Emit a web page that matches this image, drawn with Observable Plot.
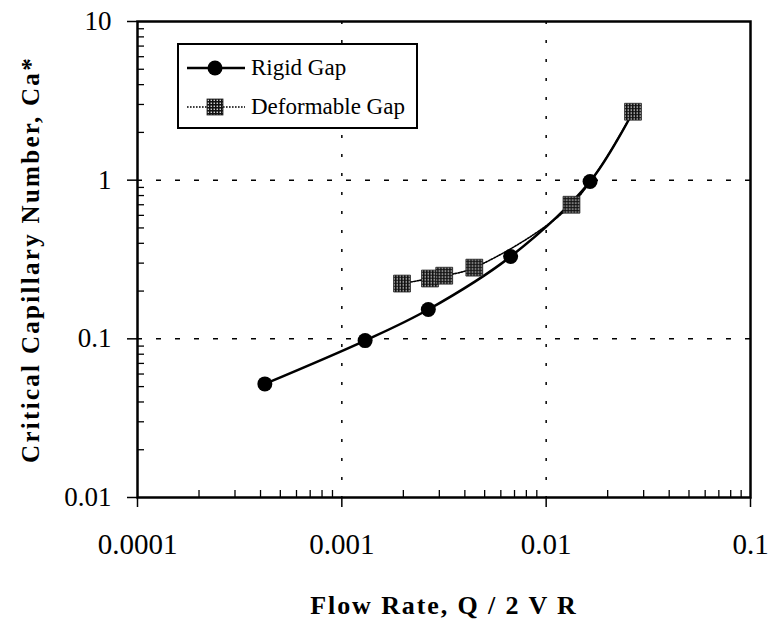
<!DOCTYPE html>
<html><head><meta charset="utf-8">
<script src="https://cdn.jsdelivr.net/npm/d3@7"></script>
<script src="https://cdn.jsdelivr.net/npm/@observablehq/plot@0.6"></script>
<style>body{margin:0;background:#fff}</style>
</head><body><div id="chart"></div>
<script>
// ---- data ----
const seriesNames = ["Rigid Gap", "Deformable Gap"];
const rigidX = [0.00042, 0.0013, 0.00265, 0.0067, 0.0164, 0.0266];
const rigidY = [0.052, 0.0975, 0.153, 0.33, 0.98, 2.7];
const deformX = [0.00197, 0.0027, 0.00317, 0.00445, 0.0133, 0.0266];
const deformY = [0.223, 0.24, 0.25, 0.281, 0.70, 2.7];
const xMajor = [0.0001, 0.001, 0.01, 0.1];
const xLabels = ["0.0001", "0.001", "0.01", "0.1"];
const yMajor = [0.01, 0.1, 1, 10];
const yLabels = ["0.01", "0.1", "1", "10"];
const xGrid = [0.001, 0.01];
const yGrid = [0.1, 1];
const minorMult = [2, 3, 4, 5, 6, 7, 8, 9];
const xTitle = "Flow Rate, Q / 2 V R";
const yTitle = "Critical Capillary Number, Ca*";

const xMinor = xMajor.slice(0, -1).flatMap(d => minorMult.map(k => d * k));
const yMinor = yMajor.slice(0, -1).flatMap(d => minorMult.map(k => d * k));
const rigid = rigidX.map((x, i) => ({x, y: rigidY[i]}));
const deform = deformX.map((x, i) => ({x, y: deformY[i]}));

const serif = "'Liberation Serif', 'Times New Roman', serif";

const chart = Plot.plot({
  width: 769, height: 619,
  marginLeft: 137, marginRight: 19, marginTop: 21, marginBottom: 122,
  x: {type: "log", domain: [0.0001, 0.1]},
  y: {type: "log", domain: [0.01, 10]},
  style: {fontFamily: serif, background: "white", color: "black"},
  marks: [
    Plot.ruleX(xGrid, {stroke: "black", strokeWidth: 1.5, strokeDasharray: "3,16"}),
    Plot.ruleY(yGrid, {stroke: "black", strokeWidth: 1.5, strokeDasharray: "5,14"}),
    Plot.axisX({ticks: xMinor, tickSize: -7, tickFormat: () => "", strokeWidth: 1.3, label: null}),
    Plot.axisY({ticks: yMinor, tickSize: -7, tickFormat: () => "", strokeWidth: 1.3, label: null}),
    Plot.axisX({ticks: xMajor, tickSize: 10, tickPadding: 26, fontSize: 29, strokeWidth: 1.5,
      tickFormat: d => xLabels[xMajor.indexOf(d)], label: null}),
    Plot.axisY({ticks: yMajor, tickSize: 10, tickPadding: 16, fontSize: 27, strokeWidth: 1.5,
      tickFormat: d => yLabels[yMajor.indexOf(d)], label: null}),
    Plot.frame({stroke: "black", strokeWidth: 2.5}),
    Plot.line(rigid, {x: "x", y: "y", curve: "catmull-rom", stroke: "black", strokeWidth: 2.5}),
    Plot.line(deform, {x: "x", y: "y", curve: "catmull-rom", stroke: "black", strokeWidth: 1.6, strokeDasharray: "1.6,1.4"}),
    Plot.dot(rigid, {x: "x", y: "y", r: 7.5, fill: "black"}),
    Plot.dot(deform, {x: "x", y: "y", symbol: "square", r: 9.5, fill: "url(#chk)", stroke: "#222", strokeWidth: 0.8}),
    Plot.text([xTitle], {frameAnchor: "bottom", dy: 116, lineAnchor: "bottom", fontSize: 26, fontWeight: "bold", fill: "black", className: "ttlx"}),
    Plot.text([yTitle], {frameAnchor: "left", dx: -107, rotate: -90, textAnchor: "middle", lineAnchor: "middle", fontSize: 25, fontWeight: "bold", fill: "black", className: "ttly"})
  ]
});

const svg = d3.select(chart);
svg.selectAll(".ttlx text").attr("letter-spacing", 1.9);
svg.selectAll(".ttly text").attr("letter-spacing", 2.3);
// checkered pattern for deformable squares
const defs = svg.insert("defs", ":first-child");
const pat = defs.append("pattern").attr("id", "chk").attr("patternUnits", "userSpaceOnUse")
  .attr("width", 3).attr("height", 3);
pat.append("rect").attr("width", 3).attr("height", 3).attr("fill", "#111");
pat.append("rect").attr("x", 0.6).attr("y", 0.6).attr("width", 1.3).attr("height", 1.3).attr("fill", "#fff");

// legend
const lg = svg.append("g").attr("font-family", serif).attr("font-size", 23).attr("text-anchor", "start");
lg.append("rect").attr("x", 178).attr("y", 44).attr("width", 239).attr("height", 84)
  .attr("fill", "white").attr("stroke", "black").attr("stroke-width", 2);
const rows = [
  {name: seriesNames[0], y: 68},
  {name: seriesNames[1], y: 107}
];
rows.forEach((r, i) => {
  lg.append("line").attr("x1", 187).attr("x2", 245).attr("y1", r.y).attr("y2", r.y)
    .attr("stroke", "black").attr("stroke-width", i === 0 ? 2.5 : 1.6)
    .attr("stroke-dasharray", i === 0 ? null : "1.6,1.4");
  if (i === 0) {
    lg.append("circle").attr("cx", 215).attr("cy", r.y).attr("r", 7.5).attr("fill", "black");
  } else {
    lg.append("rect").attr("x", 207).attr("y", r.y - 8).attr("width", 16).attr("height", 16)
      .attr("fill", "url(#chk)").attr("stroke", "#222").attr("stroke-width", 0.8);
  }
  lg.append("text").attr("x", 251).attr("y", r.y + 7).attr("fill", "black").text(r.name);
});

document.getElementById("chart").appendChild(chart);
</script>
</body></html>
